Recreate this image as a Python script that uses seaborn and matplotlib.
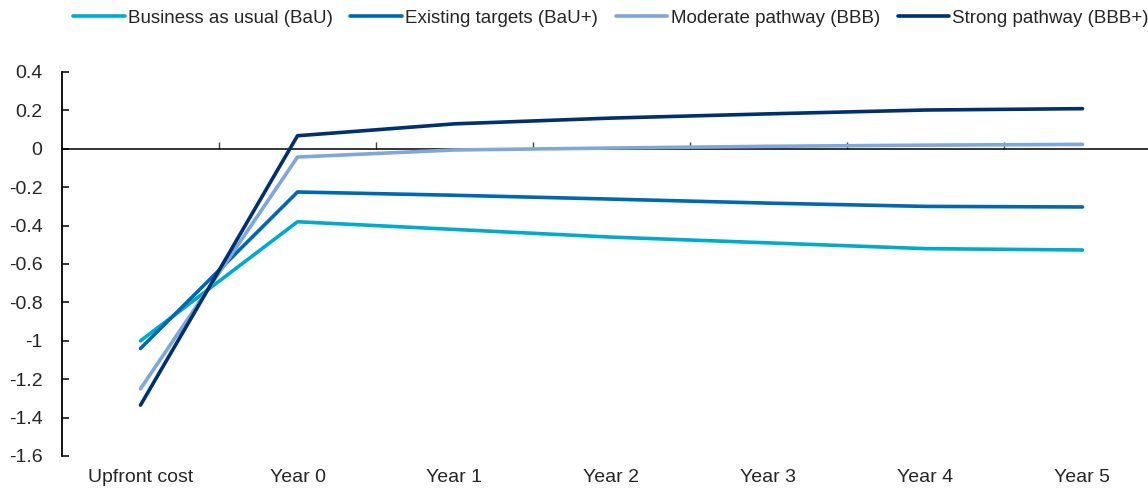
import pandas as pd
import matplotlib
matplotlib.use('Agg')
import matplotlib.pyplot as plt
import seaborn as sns
import numpy as np

# Data
periods = ['Upfront cost', 'Year 0', 'Year 1', 'Year 2', 'Year 3', 'Year 4', 'Year 5']
bau = [-1.00, -0.38, -0.42, -0.46, -0.49, -0.52, -0.527]
bau_plus = [-1.04, -0.225, -0.242, -0.262, -0.283, -0.30, -0.303]
bbb = [-1.25, -0.043, -0.006, 0.004, 0.013, 0.019, 0.023]
bbb_plus = [-1.335, 0.068, 0.13, 0.16, 0.182, 0.202, 0.209]

series_names = ['Business as usual (BaU)', 'Existing targets (BaU+)',
                'Moderate pathway (BBB)', 'Strong pathway (BBB+)']
series_colors = ['#00aacc', '#0068b3', '#7fa7d9', '#003070']

df = pd.DataFrame({
    'period': periods * 4,
    'x': list(range(len(periods))) * 4,
    'value': bau + bau_plus + bbb + bbb_plus,
    'scenario': np.repeat(series_names, len(periods)),
})

sns.set_style('white')
plt.rcParams['font.family'] = ['Liberation Sans', 'DejaVu Sans']
plt.rcParams['font.size'] = 14

fig = plt.figure(figsize=(11.48, 4.88), dpi=100)
ax = fig.add_axes([62 / 1148, 32 / 488, 1099 / 1148, 384 / 488])

sns.lineplot(data=df, x='x', y='value', hue='scenario', hue_order=series_names,
             palette=series_colors, linewidth=2.6, ax=ax, legend=True)

yticks = np.round(np.arange(-1.6, 0.41, 0.2), 1)
ax.set_xlim(-0.5, len(periods) - 0.5)
ax.set_ylim(-1.6, 0.4)
ax.set_yticks(yticks)
ax.set_yticklabels([f'{v:g}' if v != 0 else '0' for v in yticks])
ax.set_xticks(range(len(periods)))
ax.set_xticklabels(periods)
ax.tick_params(axis='x', bottom=False, length=0, pad=9, labelsize=14)
ax.tick_params(axis='y', left=True, direction='in', length=5, width=1.1,
               color='black', pad=14, labelsize=14)
ax.set_xlabel('')
ax.set_ylabel('')

for s in ['top', 'right', 'bottom']:
    ax.spines[s].set_visible(False)
ax.spines['left'].set_color('black')
ax.spines['left'].set_linewidth(1.3)

# zero line with category boundary ticks
bounds = np.arange(0.5, len(periods), 1.0)
zero = ax.secondary_xaxis(1.6 / 2.0)
zero.set_xticks(bounds)
zero.set_xticklabels([''] * len(bounds))
zero.tick_params(direction='out', length=5, width=1, color='#444444')
for s in zero.spines.values():
    s.set_color('black')
    s.set_linewidth(1.1)
ax.set_zorder(1)
ax.patch.set_visible(False)

handles, labels = ax.get_legend_handles_labels()
ax.legend(handles, labels, loc='center left', bbox_to_anchor=(73 / 1148, 1 - 18 / 488),
          bbox_transform=fig.transFigure, ncol=4, frameon=False, fontsize=13.5,
          handlelength=2.75, handletextpad=0.17, columnspacing=0.95, borderpad=0,
          borderaxespad=0)

fig.savefig('out.png', dpi=100)
